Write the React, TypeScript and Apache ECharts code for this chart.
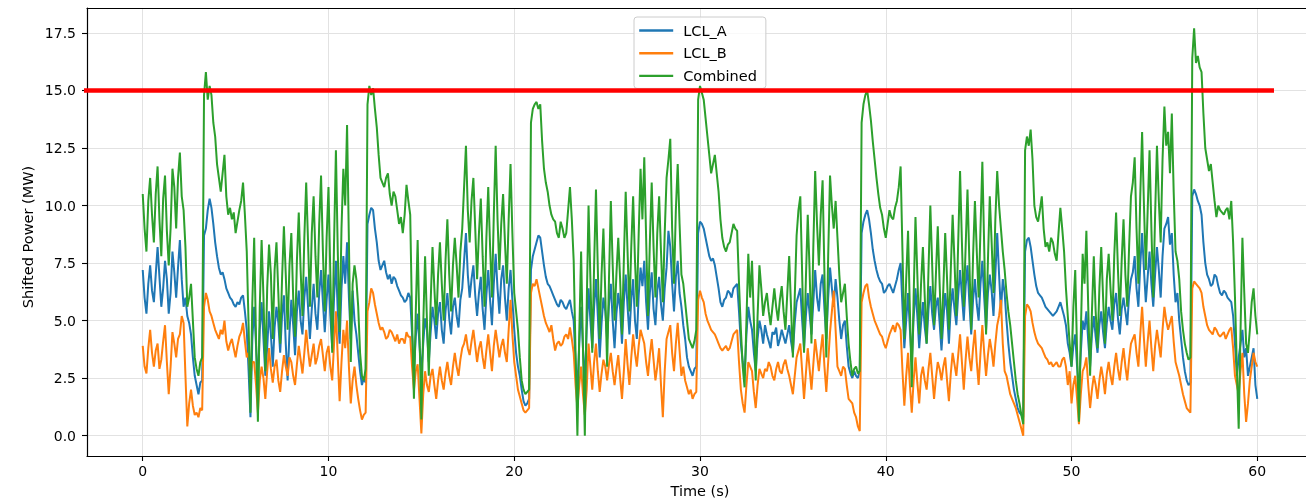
import React, { useEffect, useRef } from "react";
import * as echarts from "echarts";

// sample spacing of the recorded series (seconds)
const SAMPLE_STEP_S = 0.1;

const LCL_A = [
  7.2, 6.0, 5.3, 6.6, 7.4, 6.3, 5.8, 7.0, 8.2, 6.9, 5.6, 6.4, 7.6, 6.8, 5.3, 6.2, 8.0, 7.1, 6.0, 7.3,
  8.5, 6.8, 5.6, 6.0, 5.2, 4.9, 4.4, 3.4, 2.6, 2.2, 1.8, 2.3, 2.4, 8.7, 9.0, 9.8, 10.3, 9.9, 9.2, 8.4,
  7.8, 7.3, 7.0, 7.1, 6.8, 6.4, 6.2, 6.0, 5.9, 5.7, 5.6, 5.8, 5.7, 6.0, 6.1, 5.4, 4.6, 2.8, 0.8, 4.2,
  5.6, 3.9, 2.2, 4.6, 5.8, 4.2, 2.6, 3.8, 5.4, 4.4, 3.0, 4.7, 5.6, 4.9, 3.6, 5.2, 6.1, 4.0, 2.4, 4.5,
  5.9, 4.8, 3.5, 5.4, 6.3, 5.0, 4.4, 6.0, 6.9, 5.6, 4.2, 5.5, 6.6, 5.3, 4.6, 6.2, 7.2, 5.8, 4.5, 5.9,
  7.0, 5.2, 3.8, 6.0, 7.6, 5.4, 4.0, 6.4, 7.8, 6.6, 8.4, 6.0, 4.2, 6.3, 5.0, 4.4, 3.6, 2.8, 2.2, 2.5,
  2.3, 9.2, 9.6, 9.9, 9.8, 9.0, 8.4, 7.6, 7.2, 7.4, 7.6, 7.1, 6.8, 7.0, 6.6, 6.9, 6.8, 6.5, 6.3, 6.1,
  6.0, 5.8, 5.9, 6.2, 6.0, 4.4, 2.8, 4.3, 5.3, 3.9, 2.7, 4.0, 5.1, 4.6, 3.2, 4.5, 5.6, 5.0, 4.2, 5.3,
  5.8, 4.6, 4.0, 5.4, 6.2, 5.1, 4.4, 5.6, 6.0, 5.2, 4.7, 5.9, 6.4, 7.6, 8.8, 7.0, 6.0, 6.8, 7.4, 6.1,
  5.2, 6.2, 6.9, 5.5, 4.6, 6.1, 7.2, 5.9, 4.8, 6.6, 7.9, 6.4, 5.3, 6.8, 7.4, 6.0, 5.0, 6.4, 7.2, 5.9,
  4.6, 3.6, 3.0, 2.6, 2.0, 1.5, 1.3, 1.4, 1.6, 7.2, 7.8, 8.1, 8.4, 8.7, 8.6, 8.0, 7.4, 6.9, 6.6, 6.5,
  6.3, 6.1, 5.9, 5.7, 5.6, 5.9, 5.8, 5.6, 5.5, 5.7, 5.9, 5.4, 5.0, 3.2, 2.0, 4.0, 5.6, 3.8, 2.2, 4.6,
  6.4, 5.0, 3.8, 5.6, 6.8, 5.2, 3.4, 4.9, 6.0, 5.4, 4.2, 5.7, 6.6, 5.0, 3.8, 5.3, 6.2, 5.5, 4.0, 5.8,
  7.0, 5.6, 4.4, 5.9, 6.8, 5.0, 4.2, 6.1, 7.3, 6.5, 7.6, 5.8, 4.6, 6.2, 7.1, 5.5, 4.8, 6.3, 6.9, 5.7,
  5.0, 6.4, 7.3, 8.9, 8.2, 6.6, 5.4, 6.9, 7.6, 6.2, 5.6, 4.8, 4.2, 3.4, 3.0, 2.8, 2.6, 2.9, 3.0, 8.8,
  9.3, 9.2, 9.0, 8.6, 8.2, 7.8, 7.6, 7.7, 7.4, 6.9, 6.4, 5.8, 5.6, 5.9, 6.0, 6.3, 6.2, 6.0, 6.4, 6.5,
  6.6, 5.4, 4.0, 3.2, 2.6, 4.4, 5.6, 5.0, 4.6, 3.6, 2.8, 4.2, 5.0, 4.6, 4.0, 4.8, 4.4, 4.1, 3.8, 4.5,
  4.4, 4.7, 3.9, 4.2, 4.6, 4.3, 4.0, 4.4, 4.8, 4.1, 3.6, 4.9, 5.8, 6.1, 6.4, 5.0, 3.8, 5.2, 6.2, 5.3,
  4.4, 5.8, 7.2, 6.0, 5.4, 6.6, 7.0, 5.5, 4.2, 6.0, 7.3, 6.4, 5.6, 6.8, 6.0, 5.0, 4.2, 4.8, 5.0, 3.9,
  3.0, 2.7, 2.5, 2.8, 2.6, 2.5, 2.8, 8.8, 9.3, 9.6, 9.8, 9.4, 8.8, 8.1, 7.6, 7.2, 6.9, 6.7, 6.6, 6.2,
  6.3, 6.5, 6.6, 6.4, 6.2, 6.5, 6.8, 7.2, 7.5, 5.6, 3.8, 5.0, 6.2, 4.6, 3.2, 5.1, 6.4, 5.2, 3.8, 4.9,
  5.8, 4.7, 4.0, 5.5, 6.5, 5.3, 4.6, 5.6, 6.0, 4.9, 3.7, 5.0, 6.2, 5.4, 4.0, 5.6, 6.4, 5.5, 4.8, 6.1,
  7.2, 6.1, 5.0, 6.5, 7.4, 5.8, 4.4, 5.9, 6.8, 5.7, 5.0, 6.6, 7.6, 6.0, 4.6, 6.2, 7.0, 6.3, 5.2, 7.0,
  8.8, 7.0, 5.4, 6.8, 6.2, 5.0, 4.0, 3.2, 2.6, 2.0, 1.6, 1.2, 1.0, 0.9, 0.8, 8.0, 8.5, 8.6, 8.2, 7.6,
  7.0, 6.5, 6.2, 6.1, 6.0, 5.8, 5.6, 5.5, 5.4, 5.3, 5.2, 5.3, 5.4, 5.6, 5.8, 5.5, 5.2, 4.8, 4.0, 3.6,
  3.0, 3.9, 4.4, 3.0, 1.8, 3.6, 5.0, 4.6, 5.4, 4.1, 3.0, 4.4, 5.2, 4.3, 3.6, 4.8, 5.4, 4.5, 3.8, 4.9,
  5.6, 5.0, 4.6, 5.7, 6.2, 5.1, 4.4, 5.5, 6.0, 5.4, 4.8, 6.1, 6.8, 7.1, 7.8, 6.4, 5.6, 7.4, 8.8, 7.2,
  5.8, 6.9, 8.0, 6.6, 5.6, 7.0, 8.2, 7.2, 6.0, 7.8, 9.0, 9.2, 9.5, 8.3, 8.8, 7.0, 5.8, 6.2, 5.0, 4.2,
  3.4, 2.8, 2.4, 2.2, 2.3, 10.4, 10.7, 10.5, 10.2, 10.0, 9.6, 8.4, 7.5, 7.0, 6.8, 6.5, 6.6, 7.0, 6.9, 6.5,
  6.2, 6.1, 6.3, 6.2, 6.0, 5.9, 5.8, 5.2, 4.0, 2.6, 3.4, 4.0, 4.6, 3.4, 3.8, 2.6, 3.0, 3.4, 3.8, 2.2,
  1.6,
];

const LCL_B = [
  3.9, 3.0, 2.7, 3.8, 4.6, 3.6, 3.0, 3.7, 4.0, 2.9, 3.3, 4.1, 4.8, 3.2, 1.8, 3.0, 4.5, 4.0, 3.4, 4.2,
  4.4, 5.2, 4.9, 2.6, 0.4, 1.4, 2.0, 1.3, 0.9, 1.0, 0.8, 1.2, 1.1, 5.6, 6.2, 5.9, 5.4, 5.2, 4.9, 4.6,
  4.4, 4.2, 4.6, 4.4, 5.0, 4.1, 3.7, 4.0, 4.2, 3.8, 3.4, 3.9, 4.3, 4.5, 4.9, 4.1, 3.4, 3.6, 2.6, 3.2,
  3.2, 2.2, 1.0, 2.4, 3.0, 2.5, 1.6, 2.8, 3.8, 2.9, 2.3, 3.0, 3.3, 2.4, 1.9, 2.8, 3.5, 3.0, 2.6, 3.4,
  3.2, 2.6, 2.2, 3.1, 3.9, 3.3, 2.7, 3.6, 4.6, 3.7, 3.0, 3.5, 4.0, 3.1, 3.4, 3.9, 4.2, 3.5, 2.8, 3.6,
  3.9, 3.0, 2.4, 4.0, 5.4, 3.4, 1.5, 3.2, 4.6, 3.8, 5.0, 3.0, 1.4, 2.4, 3.0, 2.2, 1.6, 1.1, 0.7, 0.9,
  1.0, 5.4, 5.8, 6.4, 6.2, 5.7, 5.3, 4.9, 4.6, 4.7, 4.5, 4.2, 4.3, 4.6, 4.5, 4.3, 4.1, 4.4, 4.0, 4.2,
  4.2, 4.0, 4.5, 4.3, 4.3, 3.0, 2.0, 2.8, 3.1, 1.6, 0.1, 1.8, 2.8, 2.2, 1.9, 2.6, 2.9, 2.2, 1.6, 2.4,
  3.0, 2.4, 2.0, 2.7, 3.2, 2.6, 2.2, 3.0, 3.6, 3.0, 2.6, 3.3, 3.8, 4.0, 4.4, 3.8, 3.5, 4.1, 4.6, 3.9,
  3.2, 3.8, 4.1, 3.4, 2.9, 3.7, 4.4, 3.6, 2.8, 3.9, 4.6, 4.0, 3.4, 3.9, 4.2, 3.6, 3.2, 4.6, 5.9, 4.4,
  3.2, 2.6, 2.0, 1.7, 1.4, 1.1, 1.0, 1.1, 1.2, 6.2, 6.6, 6.5, 6.8, 6.4, 6.0, 5.6, 5.2, 4.9, 4.7, 4.5,
  4.8, 4.2, 3.7, 4.0, 4.1, 3.9, 4.0, 4.3, 4.4, 4.2, 4.7, 4.2, 3.6, 2.2, 1.2, 2.2, 3.0, 1.8, 0.9, 2.0,
  4.0, 3.0, 2.0, 3.2, 4.0, 2.8, 1.9, 2.7, 3.3, 3.0, 2.4, 3.1, 3.6, 2.8, 2.2, 2.9, 3.5, 2.5, 1.6, 2.8,
  4.2, 3.1, 2.2, 3.4, 4.4, 3.6, 3.0, 3.9, 4.6, 4.3, 4.0, 3.2, 2.6, 3.5, 4.2, 3.3, 2.4, 3.0, 3.8, 2.2,
  0.8, 2.8, 4.2, 4.5, 4.8, 3.6, 2.8, 4.0, 4.9, 3.7, 2.6, 3.0, 2.4, 2.1, 1.8, 2.0, 1.6, 1.8, 1.9, 5.9,
  6.3, 6.0, 5.8, 5.3, 5.0, 4.8, 4.6, 4.5, 4.4, 4.2, 4.0, 3.8, 3.7, 3.8, 3.9, 3.7, 3.8, 4.1, 4.4, 4.5,
  4.6, 3.2, 2.0, 1.4, 1.0, 2.2, 3.2, 3.0, 2.8, 1.9, 1.2, 2.2, 2.9, 2.7, 2.5, 2.9, 2.8, 3.2, 3.0, 2.6,
  2.4, 2.9, 3.2, 2.8, 2.7, 3.1, 3.3, 2.9, 2.6, 2.2, 1.8, 2.6, 3.4, 3.7, 4.0, 2.8, 1.6, 2.7, 3.8, 2.9,
  2.0, 3.1, 4.2, 3.5, 2.8, 3.7, 4.4, 3.0, 1.9, 3.2, 4.5, 5.4, 6.3, 4.6, 3.0, 2.8, 2.6, 3.0, 2.9, 2.2,
  1.6, 1.5, 1.4, 1.0, 0.8, 0.4, 0.2, 5.8, 6.2, 6.5, 6.6, 6.0, 5.6, 5.3, 5.0, 4.8, 4.6, 4.4, 4.3, 4.0,
  3.8, 4.1, 4.4, 4.6, 4.8, 4.5, 4.9, 4.8, 4.6, 2.8, 1.3, 2.6, 3.6, 2.2, 1.0, 2.4, 3.4, 2.3, 1.4, 2.6,
  3.0, 2.4, 2.0, 2.9, 3.6, 2.6, 1.6, 2.5, 3.2, 2.9, 2.4, 3.0, 3.4, 2.4, 1.5, 2.7, 3.6, 3.1, 2.6, 3.5,
  4.4, 3.2, 2.0, 3.3, 4.3, 3.4, 2.8, 3.8, 4.6, 3.2, 2.2, 3.6, 4.8, 3.6, 2.6, 3.5, 4.2, 3.7, 3.0, 4.0,
  4.8, 5.2, 5.9, 4.0, 2.8, 2.6, 2.2, 1.8, 1.6, 1.4, 1.2, 0.9, 0.6, 0.3, 0.0, 5.2, 5.7, 5.6, 5.4, 4.9,
  4.5, 4.2, 4.0, 3.9, 3.8, 3.6, 3.4, 3.3, 3.1, 3.2, 3.0, 3.1, 3.2, 3.0, 3.0, 3.3, 3.4, 3.0, 2.2, 2.8,
  1.4, 2.2, 2.6, 1.6, 0.5, 1.8, 2.8, 3.0, 3.4, 2.2, 1.2, 2.0, 2.6, 2.2, 1.6, 2.4, 3.0, 2.5, 1.8, 2.7,
  3.2, 2.6, 2.2, 3.0, 3.6, 2.9, 2.4, 3.2, 3.8, 3.0, 2.4, 3.3, 4.0, 4.2, 4.4, 3.6, 3.0, 4.4, 5.6, 4.2,
  3.0, 4.1, 5.0, 3.8, 2.8, 3.9, 4.6, 4.0, 3.4, 4.6, 5.6, 5.0, 4.6, 4.9, 5.2, 4.1, 3.2, 2.9, 2.6, 2.2,
  1.8, 1.5, 1.2, 1.1, 1.0, 6.4, 6.7, 6.6, 6.5, 6.4, 6.2, 5.6, 5.2, 4.8, 4.6, 4.5, 4.4, 4.7, 4.6, 4.4,
  4.3, 4.4, 4.5, 4.2, 4.4, 4.6, 4.7, 3.8, 2.6, 2.2, 1.8, 2.8, 3.6, 1.8, 0.6, 1.4, 2.4, 3.0, 3.6, 3.2,
  3.0,
];

const COMBINED = [
  10.5, 9.0, 8.0, 10.2, 11.2, 9.6, 8.4, 10.5, 11.7, 9.4, 7.8, 10.3, 11.3, 8.9, 7.4, 9.0, 11.6, 10.8, 9.0, 11.2,
  12.3, 10.4, 9.8, 8.2, 5.6, 6.0, 6.6, 5.0, 3.4, 2.9, 2.6, 3.2, 3.4, 14.8, 15.8, 14.6, 15.2, 14.8, 13.6, 13.0,
  11.8, 11.2, 10.6, 11.4, 12.2, 10.4, 9.6, 9.9, 9.4, 9.7, 8.8, 9.3, 9.8, 10.2, 11.0, 9.6, 8.0, 4.8, 1.0, 5.8,
  8.6, 4.2, 0.6, 5.6, 8.5, 6.0, 2.8, 6.4, 8.3, 7.0, 4.2, 7.2, 8.4, 6.2, 4.0, 6.8, 9.1, 7.0, 4.6, 7.4,
  8.8, 6.0, 4.3, 7.6, 9.7, 7.2, 5.2, 8.6, 11.0, 8.4, 5.6, 8.8, 10.4, 7.8, 6.0, 9.2, 11.3, 8.0, 5.4, 8.6,
  10.8, 7.0, 3.6, 8.4, 12.4, 8.0, 4.5, 9.0, 11.6, 10.0, 13.5, 8.4, 3.2, 6.6, 7.4, 6.8, 5.6, 3.6, 2.6, 2.4,
  2.9, 14.4, 15.2, 14.8, 15.1, 14.2, 13.4, 12.2, 11.2, 11.0, 10.8, 11.2, 11.4, 10.5, 10.0, 10.6, 10.4, 9.8, 9.2, 9.5,
  8.8, 9.6, 10.9, 10.2, 9.6, 5.0, 1.6, 5.4, 8.5, 4.4, 0.7, 4.8, 7.8, 5.0, 2.6, 5.8, 8.2, 6.4, 4.8, 7.0,
  8.4, 6.6, 5.0, 7.6, 9.4, 7.0, 5.4, 7.4, 8.6, 7.4, 6.0, 8.0, 9.0, 10.8, 12.6, 9.8, 8.4, 10.2, 11.2, 9.0,
  6.8, 8.8, 10.3, 7.8, 5.6, 8.6, 10.8, 8.2, 6.0, 9.6, 12.6, 9.4, 7.2, 9.2, 10.5, 8.4, 6.6, 9.4, 11.8, 8.8,
  6.2, 5.4, 4.6, 3.4, 2.4, 2.0, 1.8, 1.9, 2.0, 13.6, 14.2, 14.4, 14.5, 14.2, 14.4, 12.8, 11.6, 11.0, 10.6, 10.0,
  9.6, 9.4, 9.3, 8.8, 8.6, 9.3, 9.0, 8.6, 8.8, 9.8, 10.8, 9.4, 7.6, 3.6, 0.0, 4.4, 8.0, 3.8, 0.0, 5.6,
  10.0, 6.8, 3.6, 7.4, 10.7, 7.2, 4.2, 7.0, 9.0, 6.2, 3.0, 6.8, 10.2, 7.4, 5.0, 7.0, 8.6, 6.8, 4.4, 7.6,
  10.6, 8.0, 5.4, 8.2, 10.4, 7.6, 5.6, 8.8, 11.6, 9.4, 12.1, 8.6, 5.2, 8.4, 11.0, 8.2, 6.0, 8.8, 10.4, 8.0,
  5.8, 8.8, 11.2, 12.0, 12.9, 9.0, 6.6, 9.8, 11.8, 9.2, 7.0, 6.6, 5.8, 5.0, 4.2, 4.0, 3.8, 4.1, 4.6, 14.6,
  15.2, 14.9, 14.6, 13.8, 13.0, 12.2, 11.4, 11.8, 12.2, 11.4, 10.6, 9.4, 8.6, 8.2, 8.0, 8.3, 8.4, 8.8, 9.2, 9.0,
  8.9, 6.6, 4.6, 3.0, 2.1, 5.0, 7.9, 6.0, 7.6, 5.0, 2.4, 5.2, 7.4, 6.4, 5.2, 5.8, 6.2, 5.4, 4.8, 5.6,
  6.4, 5.6, 5.0, 5.9, 6.5, 5.4, 4.6, 6.2, 7.8, 5.6, 3.4, 6.0, 8.7, 9.8, 10.4, 7.0, 3.6, 6.8, 9.6, 7.2,
  4.0, 8.2, 11.5, 9.2, 7.4, 9.6, 11.1, 7.0, 3.4, 7.8, 11.3, 10.0, 9.0, 10.2, 8.6, 7.0, 5.8, 6.2, 6.6, 5.2,
  4.0, 3.2, 2.6, 2.9, 3.0, 2.7, 2.8, 13.6, 14.4, 14.8, 15.0, 14.4, 13.7, 12.8, 12.0, 11.2, 10.5, 9.9, 9.6, 9.0,
  8.6, 9.2, 9.8, 9.5, 9.4, 9.9, 10.2, 10.8, 11.7, 8.0, 4.2, 6.8, 8.9, 5.4, 2.1, 6.0, 9.5, 7.0, 4.4, 6.6,
  8.2, 6.0, 4.0, 7.2, 10.0, 7.4, 4.8, 7.0, 9.1, 6.6, 4.2, 6.4, 8.8, 6.8, 4.6, 7.2, 9.6, 7.6, 5.2, 8.4,
  11.5, 8.4, 5.6, 8.2, 10.7, 7.6, 4.6, 7.8, 10.2, 8.0, 6.0, 9.0, 11.9, 8.2, 4.4, 7.6, 10.4, 8.4, 6.2, 9.4,
  11.5, 10.0, 9.0, 8.0, 7.2, 6.2, 5.4, 4.8, 4.0, 3.2, 2.4, 1.8, 1.4, 0.9, 0.5, 12.4, 13.0, 12.6, 13.3, 12.0,
  10.0, 9.5, 9.3, 9.8, 10.4, 9.0, 8.2, 8.4, 8.0, 8.6, 8.4, 7.9, 7.6, 8.8, 9.9, 9.0, 8.0, 6.4, 5.2, 4.0,
  3.0, 5.6, 7.2, 3.6, 0.6, 4.4, 7.9, 6.6, 8.9, 5.6, 2.6, 5.4, 7.8, 5.4, 3.8, 6.4, 8.2, 6.0, 4.0, 6.8,
  7.9, 6.4, 5.0, 7.8, 9.7, 7.2, 5.2, 7.6, 9.4, 7.0, 5.6, 8.2, 10.4, 11.0, 12.1, 9.0, 6.6, 10.4, 13.2, 10.0,
  7.2, 9.8, 12.4, 9.0, 6.0, 9.6, 12.6, 10.2, 8.4, 12.0, 14.3, 12.6, 13.2, 11.4, 14.0, 10.6, 8.0, 7.6, 6.8, 5.4,
  4.6, 4.0, 3.6, 3.3, 3.4, 16.4, 17.7, 16.2, 16.5, 16.0, 15.8, 14.0, 12.5, 12.0, 11.5, 11.8, 11.0, 10.2, 9.5, 10.0,
  9.8, 9.7, 9.6, 9.8, 9.9, 9.4, 10.2, 8.4, 6.0, 3.0, 0.3, 4.6, 8.6, 6.2, 4.0, 3.6, 4.6, 5.8, 6.4, 5.2,
  4.4,
];

const SERIES_NAMES = ["LCL_A", "LCL_B", "Combined"];
const SERIES_COLORS = ["#1f77b4", "#ff7f0e", "#2ca02c"];
const X_TICKS = [0, 10, 20, 30, 40, 50, 60];
const Y_TICKS = [0, 2.5, 5, 7.5, 10, 12.5, 15, 17.5];
const LIMIT_MW = 15;
const LIMIT_SPAN = [-3.35, 60.9];

export default function App() {
  const ref = useRef<HTMLDivElement>(null);

  useEffect(() => {
    const el = ref.current;
    if (!el) return;
    document.body.style.overflow = "hidden";
    const chart = echarts.init(el, null, { renderer: "svg" });
    const font = "DejaVu Sans";
    const pts = (arr: number[]) =>
      arr.map((v, i) => [Math.round(i * SAMPLE_STEP_S * 10) / 10, v]);
    const seriesData = [LCL_A, LCL_B, COMBINED];
    const xRange = { min: -3, max: 63 };

    chart.setOption({
      animation: false,
      textStyle: { fontFamily: font },
      grid: {
        left: 87,
        top: 8,
        width: 1226,
        height: 448,
        outerBoundsMode: "none",
        containLabel: false,
        show: false,
      },
      xAxis: [
        {
          type: "value",
          ...xRange,
          axisLine: { onZero: false, lineStyle: { color: "#000", width: 1.2 } },
          axisTick: {
            show: true,
            length: 5,
            customValues: X_TICKS,
            lineStyle: { color: "#000", width: 1.1 },
          },
          axisLabel: {
            customValues: X_TICKS,
            margin: 8,
            color: "#000",
            fontSize: 14,
            fontFamily: font,
          },
          splitLine: { show: true, lineStyle: { color: "#e2e2e2", width: 1 } },
        },
        {
          type: "value",
          position: "top",
          ...xRange,
          axisLine: { show: true, onZero: false, lineStyle: { color: "#000", width: 1.2 } },
          axisTick: { show: false },
          axisLabel: { show: false },
          splitLine: { show: false },
        },
      ],
      yAxis: {
        type: "value",
        min: -0.885,
        max: 18.585,
        axisLine: { show: true, onZero: false, lineStyle: { color: "#000", width: 1.2 } },
        axisTick: {
          show: true,
          length: 5,
          customValues: Y_TICKS,
          lineStyle: { color: "#000", width: 1.1 },
        },
        axisLabel: {
          customValues: Y_TICKS,
          margin: 11,
          color: "#000",
          fontSize: 14,
          fontFamily: font,
          formatter: (v: number) => v.toFixed(1),
        },
        splitLine: { show: true, lineStyle: { color: "#e2e2e2", width: 1 } },
      },
      legend: {
        data: SERIES_NAMES,
        orient: "vertical",
        left: 634,
        top: 17,
        itemWidth: 34,
        itemHeight: 14,
        itemGap: 7.7,
        padding: [6, 9, 5, 4],
        backgroundColor: "rgba(255,255,255,0.8)",
        borderColor: "#cccccc",
        borderWidth: 1,
        borderRadius: 3,
        itemStyle: { opacity: 0 },
        lineStyle: { width: 2.4 },
        textStyle: {
          fontSize: 14.5,
          color: "#000",
          fontFamily: font,
          padding: [0, 0, 0, 5],
          lineHeight: 14,
        },
      },
      graphic: [
        {
          type: "text",
          x: 700,
          y: 491,
          style: {
            text: "Time (s)",
            fontSize: 14.5,
            fontFamily: font,
            fill: "#000",
            textAlign: "center",
            textVerticalAlign: "middle",
          },
        },
        {
          type: "text",
          x: 28,
          y: 237,
          rotation: Math.PI / 2,
          style: {
            text: "Shifted Power (MW)",
            fontSize: 14.5,
            fontFamily: font,
            fill: "#000",
            textAlign: "center",
            textVerticalAlign: "middle",
          },
        },
      ],
      series: [
        ...SERIES_NAMES.map((name, k) => ({
          name,
          type: "line",
          xAxisIndex: 0,
          data: pts(seriesData[k]),
          symbol: "none",
          showSymbol: false,
          color: SERIES_COLORS[k],
          lineStyle: { color: SERIES_COLORS[k], width: 2 },
          z: 2 + k,
          silent: true,
        })),
        {
          name: "limit",
          type: "line",
          xAxisIndex: 0,
          data: LIMIT_SPAN.map((x) => [x, LIMIT_MW]),
          symbol: "none",
          clip: false,
          lineStyle: { color: "#ff0000", width: 4.5 },
          z: 10,
          silent: true,
        },
      ],
    });

    return () => chart.dispose();
  }, []);

  return (
    <div
      ref={ref}
      style={{ position: "fixed", left: 0, top: 0, width: 1306, height: 504 }}
    />
  );
}
